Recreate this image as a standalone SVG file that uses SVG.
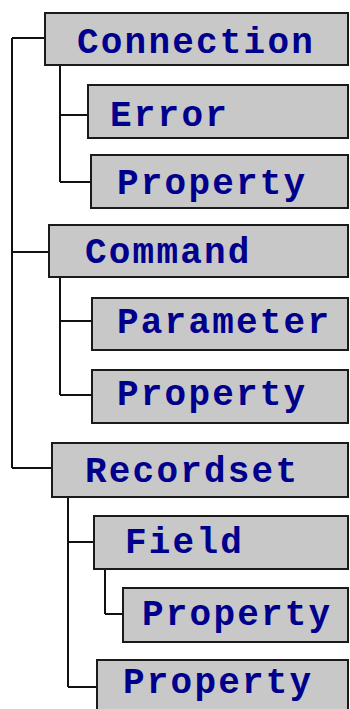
<svg xmlns="http://www.w3.org/2000/svg" width="350" height="709" viewBox="0 0 350 709">
  <style>
    .box { fill: #c8c8c8; stroke: #1a1a1a; stroke-width: 2; }
    .label { font-family: "Liberation Mono", "DejaVu Sans Mono", monospace; font-weight: bold; font-size: 36px; letter-spacing: 2.2px; fill: #00008c; }
    .wire { fill: none; stroke: #111; stroke-width: 2; }
  </style>
  <rect width="350" height="709" fill="#ffffff"/>

  <g id="connectors">
    <path class="wire" d="M12 38 V468 M12 38 H45 M12 252 H49 M12 468 H52"/>
    <path class="wire" d="M60 65 V182 M60 115 H88 M60 182 H91"/>
    <path class="wire" d="M60 277 V395 M60 321 H92 M60 395 H92"/>
    <path class="wire" d="M68 497 V687 M68 542 H94 M68 687 H97"/>
    <path class="wire" d="M105 569 V614 M105 614 H123"/>
  </g>

  <g id="connection">
    <rect class="box" x="45" y="13" width="303" height="52"/>
    <text class="label" x="77" y="53">Connection</text>
  </g>
  <g id="connection-error">
    <rect class="box" x="88" y="85" width="260" height="53"/>
    <text class="label" x="110" y="126">Error</text>
  </g>
  <g id="connection-property">
    <rect class="box" x="91" y="155" width="257" height="53"/>
    <text class="label" x="117" y="194">Property</text>
  </g>
  <g id="command">
    <rect class="box" x="49" y="225" width="299" height="52"/>
    <text class="label" x="85" y="263">Command</text>
  </g>
  <g id="command-parameter">
    <rect class="box" x="92" y="298" width="256" height="52"/>
    <text class="label" x="117" y="333">Parameter</text>
  </g>
  <g id="command-property">
    <rect class="box" x="92" y="370" width="256" height="53"/>
    <text class="label" x="117" y="405">Property</text>
  </g>
  <g id="recordset">
    <rect class="box" x="52" y="443" width="296" height="54"/>
    <text class="label" x="85" y="482">Recordset</text>
  </g>
  <g id="recordset-field">
    <rect class="box" x="94" y="516" width="254" height="53"/>
    <text class="label" x="125" y="553">Field</text>
  </g>
  <g id="field-property">
    <rect class="box" x="123" y="588" width="225" height="54"/>
    <text class="label" x="142" y="625">Property</text>
  </g>
  <g id="recordset-property">
    <rect class="box" x="97" y="660" width="251" height="60"/>
    <text class="label" x="123" y="693">Property</text>
  </g>
</svg>
